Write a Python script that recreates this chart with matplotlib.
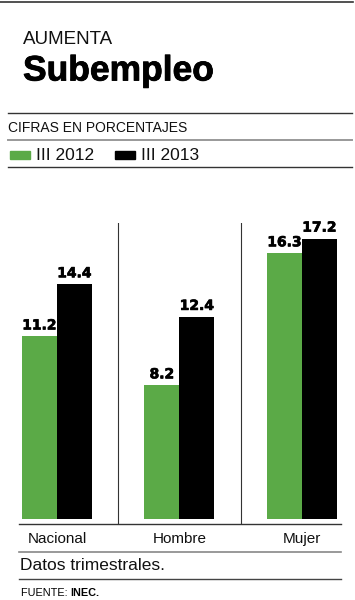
import numpy as np
import matplotlib
matplotlib.use("Agg")
import matplotlib.pyplot as plt
import matplotlib.patheffects as pe
from matplotlib.lines import Line2D
from matplotlib.patches import Rectangle

categories = ["Nacional", "Hombre", "Mujer"]
values_2012 = [11.2, 8.2, 16.3]
values_2013 = [14.4, 12.4, 17.2]
series_labels = ["III 2012", "III 2013"]

green = "#5BAA47"
black = "#000000"
W, H = 355, 600

plt.rcParams['font.family'] = ['Liberation Sans', 'DejaVu Sans']

def fx(x):
    return x / W

def fy(y):
    return 1 - y / H

def hline(fig, y, x0, x1, color, lw):
    fig.add_artist(Line2D([fx(x0), fx(x1)], [fy(y), fy(y)], color=color, lw=lw,
                          transform=fig.transFigure))

fig = plt.figure(figsize=(W / 100, H / 100), dpi=100)

# header
hline(fig, 2, 0, 353, "#333333", 1.2)
fig.text(fx(23), fy(40), "AUMENTA", fontsize=13.5, va="center", ha="left", color="#111111")
fig.text(fx(23), fy(71), "Subempleo", fontsize=25.5, fontweight="bold", va="center", ha="left",
         path_effects=[pe.withStroke(linewidth=0.6, foreground="black")])
hline(fig, 113, 8, 352, "#333333", 1.0)
fig.text(fx(8), fy(128), "CIFRAS EN PORCENTAJES", fontsize=10, va="center", ha="left", color="#111111")
hline(fig, 140, 8, 352, "#999999", 1.4)

# legend
for (px, lab, col) in [(10, series_labels[0], green), (115, series_labels[1], black)]:
    fig.add_artist(Rectangle((fx(px), fy(159)), fx(20), 8 / H, color=col,
                             transform=fig.transFigure))
    fig.text(fx(px + 26), fy(155), lab, fontsize=12.5, va="center", ha="left", color="#111111")
hline(fig, 167, 8, 352, "#333333", 1.0)

# chart
px_per_unit = 16.3
ax = fig.add_axes([fx(19), fy(524), fx(322), 301 / H])
ax.set_xlim(-0.310, 2.319)
ax.set_ylim(-5 / px_per_unit, 296 / px_per_unit)

x = np.arange(len(categories))
w = 35 / 122.5
b1 = ax.bar(x - w / 2, values_2012, width=w, color=green)
b2 = ax.bar(x + w / 2, values_2013, width=w, color=black)
for bars, vals in [(b1, values_2012), (b2, values_2013)]:
    for bar, v in zip(bars, vals):
        ax.text(bar.get_x() + bar.get_width() / 2, v + 4 / px_per_unit, f"{v:.1f}",
                ha="center", va="bottom", fontsize=10, fontweight="bold",
                family="DejaVu Sans",
                path_effects=[pe.withStroke(linewidth=0.5, foreground="black")])

for sep in [0.5, 1.5]:
    ax.axvline(sep, color="#333333", lw=0.8)

for s in ["top", "left", "right"]:
    ax.spines[s].set_visible(False)
ax.spines["bottom"].set_color("#333333")
ax.spines["bottom"].set_linewidth(1.0)
ax.set_yticks([])
ax.set_xticks([])

for xi, cat in zip(x, categories):
    fig.text(fx(57 + 122.5 * xi), fy(539), cat, fontsize=11, ha="center", va="center",
             color="#111111")

hline(fig, 552, 19, 341, "#888888", 1.2)
fig.text(fx(20), fy(565), "Datos trimestrales.", fontsize=12.5, va="center", ha="left",
         color="#111111")
hline(fig, 579, 19, 341, "#444444", 1.0)

t = fig.text(fx(21), fy(593), "FUENTE: ", fontsize=7.8, va="center", ha="left")
fig.canvas.draw()
bb = t.get_window_extent()
fig.text(bb.x1 / W, fy(593), "INEC.", fontsize=7.8, fontweight="bold", va="center", ha="left")

fig.savefig("out.png", dpi=100)
